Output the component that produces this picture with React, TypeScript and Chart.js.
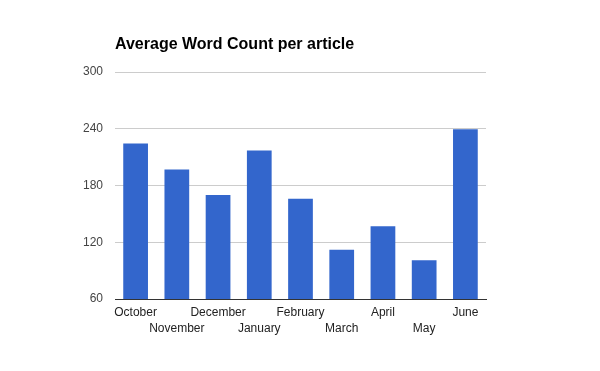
import React, { useEffect, useRef } from "react";
import { Chart, registerables } from "chart.js";

Chart.register(...registerables);

const title = "Average Word Count per article";
const months = ["October", "November", "December", "January", "February", "March", "April", "May", "June"];
const wordCounts = [224.5, 197, 170, 217, 166, 112, 137, 101, 239.5];
const yTicks = [60, 120, 180, 240, 300];

const titlePlugin = {
  id: "customTitle",
  afterDraw(chart: any) {
    const ctx = chart.ctx;
    ctx.save();
    ctx.font = "bold 16px Arial, 'Liberation Sans', sans-serif";
    ctx.fillStyle = "#000";
    ctx.textAlign = "left";
    ctx.textBaseline = "alphabetic";
    ctx.fillText(title, 115, 49);
    ctx.restore();
  },
};

export default function App() {
  const ref = useRef<HTMLCanvasElement | null>(null);
  useEffect(() => {
    if (!ref.current) return;
    const chart = new Chart(ref.current, {
      type: "bar",
      data: {
        labels: months,
        datasets: [
          {
            data: wordCounts,
            backgroundColor: "#3366cc",
            barPercentage: 0.6,
            categoryPercentage: 1,
          },
        ],
      },
      options: {
        animation: false,
        responsive: false,
        maintainAspectRatio: false,
        layout: { padding: { top: 72, right: 114, left: 0, bottom: 0 } },
        plugins: { legend: { display: false }, tooltip: { enabled: false }, title: { display: false } },
        scales: {
          x: {
            grid: { display: false, drawTicks: false },
            border: { display: true, color: "#333", width: 1 },
            ticks: {
              autoSkip: false,
              maxRotation: 0,
              minRotation: 0,
              padding: 6,
              color: "#222",
              font: { family: "Arial, 'Liberation Sans', sans-serif", size: 12, lineHeight: 1.333 },
              callback: (_v: any, i: number) => (i % 2 ? ["", months[i]] : months[i]),
            },
            afterFit: (s: any) => {
              s.height = 72;
            },
          },
          y: {
            min: 60,
            max: 300,
            afterBuildTicks: (s: any) => {
              s.ticks = yTicks.map((v) => ({ value: v }));
            },
            grid: { color: "#cccccc", drawTicks: false },
            border: { display: false },
            ticks: {
              padding: 12,
              color: "#444",
              font: { family: "Arial, 'Liberation Sans', sans-serif", size: 12 },
            },
            afterFit: (s: any) => {
              s.width = 115;
            },
          },
        },
      },
      plugins: [titlePlugin],
    });
    return () => chart.destroy();
  }, []);
  return (
    <div style={{ position: "fixed", left: 0, top: 0, width: 600, height: 371, background: "#fff" }}>
      <canvas ref={ref} width={600} height={371} style={{ width: 600, height: 371 }} />
    </div>
  );
}
